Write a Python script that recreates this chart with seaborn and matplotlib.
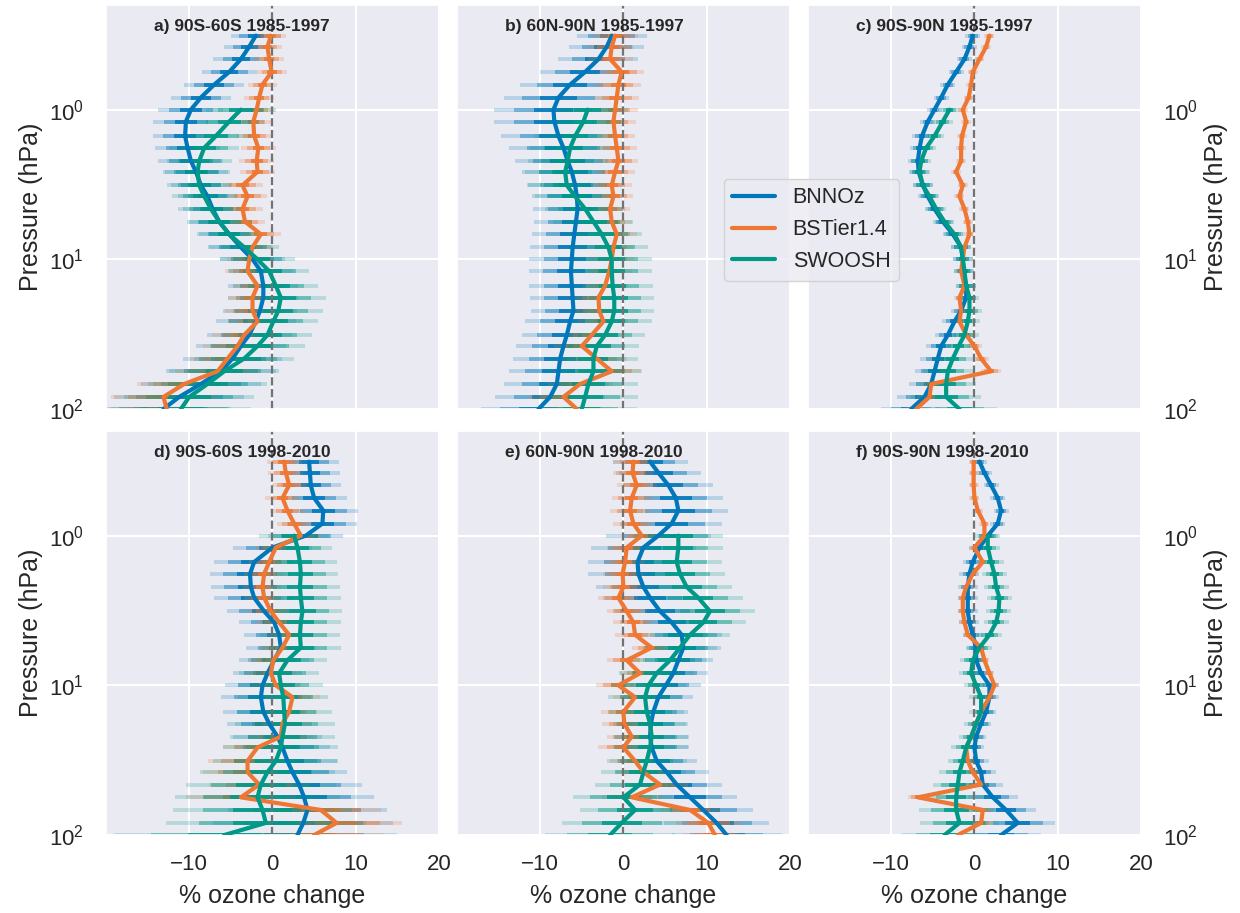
import numpy as np
import pandas as pd
import matplotlib
matplotlib.use('Agg')
import matplotlib.pyplot as plt
import seaborn as sns
from matplotlib.lines import Line2D
from matplotlib.ticker import NullLocator

nan = np.nan

# pressure levels (hPa)
pressure = [0.32, 0.38, 0.46, 0.56, 0.68, 0.83, 1.0, 1.2, 1.5, 1.8, 2.2, 2.6,
            3.2, 3.8, 4.6, 5.6, 6.8, 8.3, 10, 12, 15, 18, 22, 26,
            32, 38, 46, 56, 68, 83, 100]

datasets = ['BNNOz', 'BSTier1.4', 'SWOOSH']
colors = ['#0077BB', '#EE7733', '#009988']

titles = ['a) 90S-60S 1985-1997', 'b) 60N-90N 1985-1997', 'c) 90S-90N 1985-1997',
          'd) 90S-60S 1998-2010', 'e) 60N-90N 1998-2010', 'f) 90S-90N 1998-2010']

# % ozone change per level
a_bnnoz = [-2.0, -2.8, -3.8, -5.2, -7.0, -8.6, -9.8, -10.4, -10.5, -10.2, -9.8, -9.2,
           -8.6, -7.8, -7.2, -6.4, -5.2, -3.8, -2.4, -1.4, -1.1, -1.1, -1.5, -2.0,
           -2.8, -3.8, -4.8, -6.2, -8.6, -11.2, -13.1]
a_bstier = [-0.2, -0.6, -0.4, -0.1, -1.2, -1.6, -1.9, -2.3, -2.2, -1.7, -1.9, -1.8,
            -3.6, -3.0, -3.6, -3.3, -1.4, -2.4, -2.8, -3.0, -1.8, -2.4, -2.4, -1.8,
            -3.4, -4.2, -5.4, -6.6, -10.6, -13.1, -12.7]
a_swoosh = [nan, nan, nan, nan, nan, nan, -3.8, -5.2, -6.8, -8.2, -8.8, -9.0,
            -8.8, -8.2, -7.4, -6.4, -5.2, -3.4, -1.8, -0.4, 0.4, 1.0, 0.7, 0.1,
            -0.6, -1.8, -3.4, -5.8, -7.8, -10.0, -11.0]

b_bnnoz = [-1.4, -2.0, -3.0, -4.6, -6.4, -7.8, -8.4, -8.3, -7.8, -7.2, -6.7, -6.2,
           -5.8, -5.6, -5.5, -5.7, -5.9, -6.1, -6.2, -6.3, -6.2, -6.1, -6.0, -6.4,
           -6.8, -7.2, -7.6, -7.8, -8.0, -8.8, -10.2]
b_bstier = [-1.0, -1.4, -1.6, -0.2, -0.6, -0.8, -1.0, -1.2, -1.0, -0.8, -0.6, -1.0,
            -1.4, -1.2, -1.6, -1.4, -0.8, -1.2, -1.4, -1.7, -2.2, -3.0, -2.9, -2.4,
            -3.8, -5.0, -3.2, -1.4, -5.2, -7.2, -5.6]
b_swoosh = [nan, nan, nan, nan, nan, nan, -4.3, -4.8, -5.8, -6.4, -6.7, -7.0,
            -6.8, -5.8, -4.6, -3.6, -2.6, -1.8, -1.4, -1.4, -1.3, -1.1, -1.1, -1.4,
            -2.2, -3.2, -3.6, -3.6, -4.2, -4.6, -5.0]

c_bnnoz = [-0.2, -0.6, -1.2, -2.2, -3.2, -4.0, -4.8, -5.6, -6.3, -6.6, -6.8, -6.7,
           -6.2, -5.6, -4.8, -3.8, -2.6, -1.6, -1.4, -1.3, -1.0, -1.0, -1.6, -2.4,
           -3.2, -4.0, -4.4, -4.8, -5.2, -6.0, -7.6]
c_bstier = [1.8, 1.4, 0.6, -0.2, -0.4, -0.7, -1.4, -1.0, -1.5, -1.6, -1.6, -2.2,
            -1.4, -1.8, -1.2, -0.8, -0.6, -1.2, -1.4, -1.6, -1.2, -1.8, -1.6, -1.8,
            -1.0, 0.0, 0.8, 2.0, -5.2, -5.4, -7.0]
c_swoosh = [nan, nan, nan, nan, nan, nan, -3.0, -3.8, -4.8, -5.8, -6.4, -6.6,
            -6.2, -5.4, -4.6, -3.6, -2.4, -1.6, -1.4, -1.2, -1.0, -0.6, -0.6, -0.8,
            -1.2, -1.9, -2.6, -3.2, -3.4, -3.4, -1.8]

d_bnnoz = [4.4, 4.5, 4.6, 5.0, 6.1, 6.0, 4.0, 0.0, -2.2, -2.7, -2.6, -2.2,
           -1.0, 0.2, 0.8, 1.0, 0.2, -0.6, -1.2, -1.4, -1.1, -0.4, 0.6, 1.2,
           1.8, 2.4, 3.2, 3.8, 4.2, 3.7, 3.0]
d_bstier = [1.4, 1.6, 2.0, 1.2, 1.8, 2.6, 3.4, 0.4, -0.4, -1.0, -1.2, -1.0,
            -0.2, 0.8, 2.0, 1.2, 0.1, -0.2, 0.4, 2.4, 2.0, 1.2, 1.0, -1.8,
            -3.0, -3.0, -1.6, -3.8, 5.8, 7.7, 5.0]
d_swoosh = [nan, nan, nan, nan, nan, nan, 2.6, 3.0, 3.3, 3.4, 3.3, 3.4,
            3.6, 3.4, 3.3, 3.4, 1.8, 0.8, 1.0, 1.3, 1.4, 1.5, 1.2, 1.0,
            0.4, -0.6, -1.4, -1.8, -1.2, -0.8, -5.8]

e_bnnoz = [3.2, 4.2, 5.4, 6.3, 6.6, 5.8, 4.2, 2.4, 1.7, 1.8, 2.4, 3.2,
           4.4, 5.8, 7.0, 7.2, 6.6, 6.0, 5.1, 4.2, 3.6, 3.3, 3.2, 3.4,
           4.0, 5.2, 6.4, 8.0, 9.6, 11.2, 12.4]
e_bstier = [1.2, 1.1, 1.6, 1.0, 0.8, 1.2, 2.2, 0.4, 0.2, -0.1, 0.0, -0.6,
            0.4, 1.2, 1.4, 3.4, 0.4, 2.0, -0.6, 1.4, 0.0, 0.1, 1.0, 0.0,
            1.4, 2.4, 4.4, 1.0, 8.0, 10.2, 11.0]
e_swoosh = [nan, nan, nan, nan, nan, nan, 6.6, 6.6, 6.4, 6.8, 7.6, 9.0,
            10.4, 9.6, 8.0, 6.8, 5.6, 4.0, 3.0, 2.6, 2.8, 3.2, 3.4, 3.2,
            2.8, 2.4, 2.0, 0.0, 1.4, -0.2, -1.6]

f_bnnoz = [0.6, 1.2, 2.0, 2.8, 3.2, 2.8, 1.6, 0.6, -0.2, -0.6, -0.8, -0.8,
           -0.8, -0.6, -0.2, 0.2, 0.2, 0.8, 1.8, 1.8, 1.4, 0.8, 0.2, 0.0,
           0.2, 0.8, 1.0, 2.2, 3.8, 5.2, 3.2]
f_bstier = [-0.1, -0.1, -0.1, 0.0, 0.4, 1.2, 1.2, 0.0, 1.0, -0.2, -1.0, -1.4,
            -1.4, -1.2, -0.8, 0.8, 1.2, 1.8, 2.4, 1.8, 0.8, 0.2, -0.4, -1.0,
            -0.8, -0.2, 0.8, -6.8, 1.0, 0.8, -2.0]
f_swoosh = [nan, nan, nan, nan, nan, nan, 1.6, 1.6, 2.0, 2.4, 2.6, 3.0,
            2.9, 2.6, 1.8, 0.6, -0.2, -0.4, 0.2, 0.8, 0.8, 0.2, -0.4, -1.0,
            -1.4, -1.8, -2.0, -2.2, -2.2, -1.8, -3.6]

# one-sigma uncertainty per level
a_bnnoz_sd = [1.0, 1.0, 1.1, 1.1, 1.2, 1.2, 1.3, 1.3, 1.3, 1.3, 1.3, 1.3,
              1.2, 1.2, 1.2, 1.2, 1.2, 1.3, 1.3, 1.3, 1.4, 1.4, 1.5, 1.6,
              1.7, 1.8, 2.0, 2.2, 2.4, 2.6, 2.7]
a_bstier_sd = [0.6, 0.6, 0.6, 0.6, 0.6, 0.6, 0.7, 0.7, 0.7, 0.7, 0.7, 0.7,
               0.8, 0.8, 0.8, 0.8, 0.8, 0.8, 0.9, 0.9, 1.0, 1.0, 1.1, 1.2,
               1.3, 1.4, 1.5, 1.7, 1.9, 2.1, 2.3]
a_swoosh_sd = [nan, nan, nan, nan, nan, nan, 1.4, 1.4, 1.4, 1.4, 1.3, 1.3,
               1.3, 1.3, 1.3, 1.3, 1.3, 1.4, 1.5, 1.6, 1.7, 1.8, 1.8, 1.8,
               1.8, 1.9, 2.0, 2.2, 2.4, 2.6, 2.8]

b_bnnoz_sd = [1.4, 1.5, 1.6, 1.8, 2.0, 2.2, 2.4, 2.4, 2.3, 2.2, 2.1, 2.0,
              1.9, 1.8, 1.8, 1.7, 1.7, 1.7, 1.7, 1.7, 1.7, 1.7, 1.7, 1.8,
              1.8, 1.9, 1.9, 2.0, 2.1, 2.2, 2.3]
b_bstier_sd = [0.9, 0.9, 0.9, 0.9, 0.9, 0.9, 0.9, 0.9, 0.8, 0.8, 0.8, 0.8,
               0.8, 0.8, 0.8, 0.8, 0.8, 0.8, 0.9, 0.9, 0.9, 1.0, 1.0, 1.0,
               1.1, 1.1, 1.2, 1.2, 1.3, 1.4, 1.5]
b_swoosh_sd = [nan, nan, nan, nan, nan, nan, 1.6, 1.6, 1.6, 1.6, 1.6, 1.6,
               1.6, 1.6, 1.6, 1.6, 1.6, 1.6, 1.6, 1.6, 1.6, 1.6, 1.6, 1.6,
               1.6, 1.7, 1.8, 1.9, 2.0, 2.1, 2.2]

c_bnnoz_sd = [0.3, 0.3, 0.3, 0.3, 0.3, 0.3, 0.3, 0.3, 0.4, 0.4, 0.4, 0.4,
              0.4, 0.4, 0.4, 0.4, 0.4, 0.4, 0.4, 0.4, 0.4, 0.4, 0.4, 0.5,
              0.5, 0.6, 0.7, 0.8, 0.9, 1.1, 1.2]
c_bstier_sd = [0.2, 0.2, 0.2, 0.2, 0.2, 0.2, 0.2, 0.2, 0.2, 0.2, 0.2, 0.2,
               0.2, 0.2, 0.2, 0.2, 0.2, 0.2, 0.2, 0.2, 0.2, 0.2, 0.2, 0.2,
               0.3, 0.3, 0.3, 0.4, 0.4, 0.5, 0.5]
c_swoosh_sd = [nan, nan, nan, nan, nan, nan, 0.4, 0.4, 0.4, 0.4, 0.4, 0.4,
               0.4, 0.4, 0.4, 0.4, 0.4, 0.4, 0.4, 0.4, 0.4, 0.4, 0.5, 0.5,
               0.6, 0.7, 0.8, 1.0, 1.2, 1.4, 1.5]

d_bnnoz_sd = [1.2, 1.2, 1.2, 1.3, 1.4, 1.4, 1.5, 1.6, 1.6, 1.6, 1.6, 1.6,
              1.5, 1.4, 1.4, 1.4, 1.4, 1.4, 1.5, 1.6, 1.6, 1.7, 1.8, 1.9,
              2.0, 2.2, 2.5, 2.8, 3.2, 3.6, 4.0]
d_bstier_sd = [0.7, 0.7, 0.7, 0.7, 0.7, 0.7, 0.8, 0.8, 0.8, 0.8, 0.8, 0.8,
               0.9, 0.9, 0.9, 0.9, 1.0, 1.0, 1.0, 1.1, 1.1, 1.2, 1.3, 1.4,
               1.6, 1.8, 2.0, 2.2, 2.4, 2.6, 2.8]
d_swoosh_sd = [nan, nan, nan, nan, nan, nan, 1.4, 1.4, 1.5, 1.5, 1.6, 1.6,
               1.6, 1.6, 1.6, 1.6, 1.6, 1.6, 1.7, 1.8, 1.9, 2.0, 2.1, 2.3,
               2.5, 2.7, 3.0, 3.3, 3.6, 4.0, 4.4]

e_bnnoz_sd = [1.5, 1.7, 1.8, 1.9, 2.0, 2.0, 2.1, 2.1, 2.0, 2.0, 1.9, 1.9,
              1.8, 1.7, 1.6, 1.5, 1.4, 1.4, 1.4, 1.4, 1.4, 1.4, 1.5, 1.5,
              1.6, 1.7, 1.8, 1.9, 2.0, 2.1, 2.2]
e_bstier_sd = [0.8, 0.8, 0.8, 0.8, 0.8, 0.8, 0.8, 0.8, 0.8, 0.8, 0.8, 0.8,
               0.8, 0.8, 0.8, 0.8, 0.8, 0.8, 0.9, 0.9, 0.9, 0.9, 1.0, 1.0,
               1.0, 1.1, 1.1, 1.2, 1.2, 1.3, 1.3]
e_swoosh_sd = [nan, nan, nan, nan, nan, nan, 1.8, 1.8, 1.8, 1.8, 1.8, 1.8,
               1.8, 1.7, 1.6, 1.5, 1.5, 1.5, 1.5, 1.5, 1.5, 1.5, 1.5, 1.5,
               1.6, 1.7, 1.8, 2.0, 2.2, 2.4, 2.6]

f_bnnoz_sd = [0.3, 0.3, 0.3, 0.3, 0.3, 0.3, 0.4, 0.4, 0.4, 0.4, 0.4, 0.4,
              0.4, 0.4, 0.4, 0.4, 0.4, 0.4, 0.4, 0.4, 0.4, 0.4, 0.4, 0.4,
              0.5, 0.6, 0.8, 1.0, 1.2, 1.5, 1.6]
f_bstier_sd = [0.2, 0.2, 0.2, 0.2, 0.2, 0.2, 0.2, 0.2, 0.2, 0.2, 0.2, 0.2,
               0.2, 0.2, 0.2, 0.2, 0.2, 0.2, 0.2, 0.2, 0.2, 0.2, 0.2, 0.2,
               0.3, 0.3, 0.3, 0.4, 0.4, 0.5, 0.5]
f_swoosh_sd = [nan, nan, nan, nan, nan, nan, 0.5, 0.5, 0.5, 0.5, 0.5, 0.5,
               0.5, 0.5, 0.5, 0.5, 0.5, 0.5, 0.5, 0.5, 0.5, 0.5, 0.5, 0.6,
               0.6, 0.8, 1.0, 1.2, 1.5, 1.6, 1.7]

changes = [
    (a_bnnoz, a_bstier, a_swoosh), (b_bnnoz, b_bstier, b_swoosh), (c_bnnoz, c_bstier, c_swoosh),
    (d_bnnoz, d_bstier, d_swoosh), (e_bnnoz, e_bstier, e_swoosh), (f_bnnoz, f_bstier, f_swoosh),
]
sigmas = [
    (a_bnnoz_sd, a_bstier_sd, a_swoosh_sd), (b_bnnoz_sd, b_bstier_sd, b_swoosh_sd),
    (c_bnnoz_sd, c_bstier_sd, c_swoosh_sd), (d_bnnoz_sd, d_bstier_sd, d_swoosh_sd),
    (e_bnnoz_sd, e_bstier_sd, e_swoosh_sd), (f_bnnoz_sd, f_bstier_sd, f_swoosh_sd),
]

sns.set_theme(style='darkgrid', rc={'grid.linewidth': 1.5})
plt.rcParams['font.family'] = ['Liberation Sans', 'DejaVu Sans']
palette = dict(zip(datasets, colors))

fig = plt.figure(figsize=(12.4, 9.13), dpi=100)
lefts = [0.0855, 0.3685, 0.6516]
bottoms = [0.552, 0.0854]
width, height = 0.2685, 0.4425

for i, title in enumerate(titles):
    row, col = divmod(i, 3)
    ax = fig.add_axes([lefts[col], bottoms[row], width, height])
    ax.set_yscale('log')

    frames = []
    for name, color, vals, sds in zip(datasets, colors, changes[i], sigmas[i]):
        df = pd.DataFrame({'pressure': pressure, 'change': vals, 'sd': sds})
        df = df.dropna()
        df['dataset'] = name
        frames.append(df)
        # 3, 2 and 1 sigma bars
        for k, alpha in [(3, 0.22), (2, 0.42), (1, 0.85)]:
            ax.hlines(df['pressure'], df['change'] - k * df['sd'], df['change'] + k * df['sd'],
                      colors=color, alpha=alpha, lw=2.8, zorder=2)
    long_df = pd.concat(frames, ignore_index=True)

    ax.axvline(0, color='0.45', ls='--', lw=1.6, zorder=2.5)
    sns.lineplot(data=long_df, x='change', y='pressure', hue='dataset', palette=palette,
                 sort=False, estimator=None, orient='y', lw=3.0, legend=False,
                 ax=ax, zorder=3)

    ax.set_xlim(-20, 20)
    ax.set_xticks([-10, 0, 10, 20])
    ax.set_yticks([1, 10, 100])
    ax.yaxis.set_minor_locator(NullLocator())
    ax.set_ylim(100, 0.2)
    ax.tick_params(axis='both', labelsize=16, length=0)
    ax.tick_params(axis='y', pad=16)
    ax.tick_params(axis='x', pad=14)

    ax.text(0.144, 0.935, title, transform=ax.transAxes, fontsize=12.5,
            fontweight='bold', ha='left', va='baseline', color='#262626', zorder=4)

    if row == 1:
        ax.set_xlabel('% ozone change', fontsize=18, labelpad=6)
    else:
        ax.set_xlabel('')
        ax.tick_params(labelbottom=False)

    if col == 0:
        ax.set_ylabel('Pressure (hPa)', fontsize=18)
    elif col == 2:
        ax.yaxis.tick_right()
        ax.yaxis.set_label_position('right')
        ax.set_ylabel('Pressure (hPa)', fontsize=18)
    else:
        ax.set_ylabel('')
        ax.tick_params(labelleft=False)

handles = [Line2D([], [], color=c, lw=3.0) for c in colors]
fig.legend(handles, datasets, loc='upper left', bbox_to_anchor=(0.575, 0.816),
           fontsize=15.5, frameon=True)

fig.savefig('out.png', dpi=100)
